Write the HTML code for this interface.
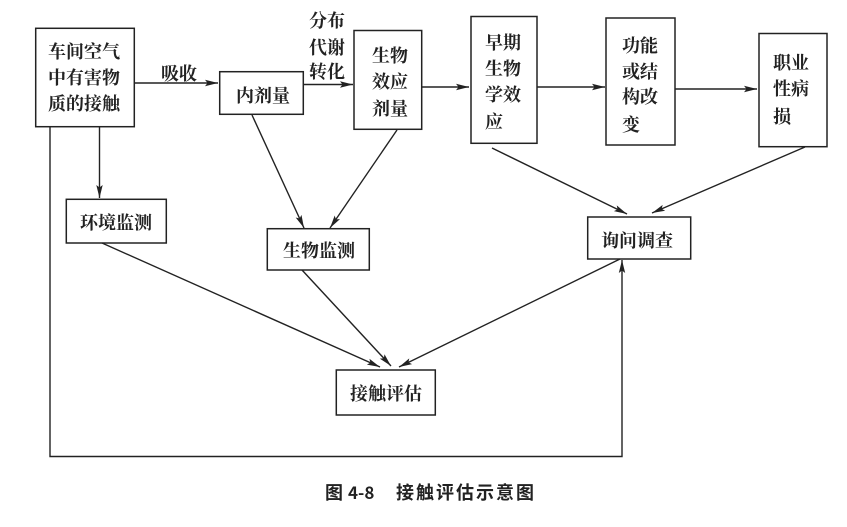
<!DOCTYPE html>
<html><head><meta charset="utf-8">
<style>
html,body{margin:0;padding:0;background:#fff;width:847px;height:527px;overflow:hidden}
svg{display:block}
text{font-family:"Noto Serif CJK SC","Liberation Serif",serif;font-size:18px;fill:#222;font-weight:700;text-anchor:middle}
.b{fill:#fff;stroke:#222;stroke-width:1.5}
.l{stroke:#222;stroke-width:1.4;fill:none}
.c{font-family:"Noto Sans CJK SC","Liberation Sans",sans-serif;font-weight:700;text-anchor:start;font-size:18px}
</style></head><body>
<svg width="847" height="527" viewBox="0 0 847 527" xmlns="http://www.w3.org/2000/svg">
<defs><marker id="a" markerWidth="14" markerHeight="8" refX="13" refY="4" orient="auto" markerUnits="userSpaceOnUse"><path d="M0,0.8L13,4L0,7.2L2.5,4Z" fill="#222"/></marker></defs>
<rect class="b" x="35.7" y="28.3" width="98.6" height="98.4"/>
<text x="84" y="58">车间空气</text><text x="84" y="84">中有害物</text><text x="84" y="110">质的接触</text>
<rect class="b" x="219.7" y="71.7" width="83.6" height="42.6"/><text x="263" y="102">内剂量</text>
<rect class="b" x="354" y="30.5" width="67.7" height="98.8"/>
<text x="390" y="62">生物</text><text x="390" y="88">效应</text><text x="390" y="115">剂量</text>
<rect class="b" x="471" y="16.5" width="66" height="126.8"/>
<text x="503" y="49">早期</text><text x="503" y="75">生物</text><text x="503" y="101">学效</text><text x="494" y="128">应</text>
<rect class="b" x="606" y="18" width="69" height="127"/>
<text x="640" y="52">功能</text><text x="640" y="78">或结</text><text x="640" y="103">构改</text><text x="631" y="131">变</text>
<rect class="b" x="759" y="33.5" width="68" height="113.2"/>
<text x="791" y="69">职业</text><text x="791" y="95">性病</text><text x="782" y="123">损</text>
<rect class="b" x="66.3" y="199.3" width="100" height="43.7"/><text x="116" y="229">环境监测</text>
<rect class="b" x="267.3" y="228.7" width="102" height="41.3"/><text x="319" y="257">生物监测</text>
<rect class="b" x="587.7" y="217" width="103" height="42"/><text x="637" y="247">询问调查</text>
<rect class="b" x="336.3" y="370" width="99" height="45"/><text x="386" y="400">接触评估</text>
<text x="179" y="80">吸收</text>
<text x="327" y="27">分布</text><text x="327" y="54">代谢</text><text x="327" y="78">转化</text>
<path class="l" d="M134,83H218" marker-end="url(#a)"/>
<path class="l" d="M303,84.5H353" marker-end="url(#a)"/>
<path class="l" d="M422,87H469" marker-end="url(#a)"/>
<path class="l" d="M537,87H605" marker-end="url(#a)"/>
<path class="l" d="M675,89H757" marker-end="url(#a)"/>
<path class="l" d="M99.5,127V198" marker-end="url(#a)"/>
<path class="l" d="M252,115L304,228" marker-end="url(#a)"/>
<path class="l" d="M397,130L330,228" marker-end="url(#a)"/>
<path class="l" d="M492,148L627,214" marker-end="url(#a)"/>
<path class="l" d="M805,147L652,213" marker-end="url(#a)"/>
<path class="l" d="M102,243L380,367" marker-end="url(#a)"/>
<path class="l" d="M302,270L391,366" marker-end="url(#a)"/>
<path class="l" d="M620,259L399,367" marker-end="url(#a)"/>
<path class="l" d="M50,127V456.5H622V260" marker-end="url(#a)"/>
<text class="c" x="325" y="499">图</text>
<text class="c" x="348" y="499" style="font-size:17px">4-8</text>
<text class="c" x="396" y="499" style="letter-spacing:2px">接触评估示意图</text>
</svg>
</body></html>
